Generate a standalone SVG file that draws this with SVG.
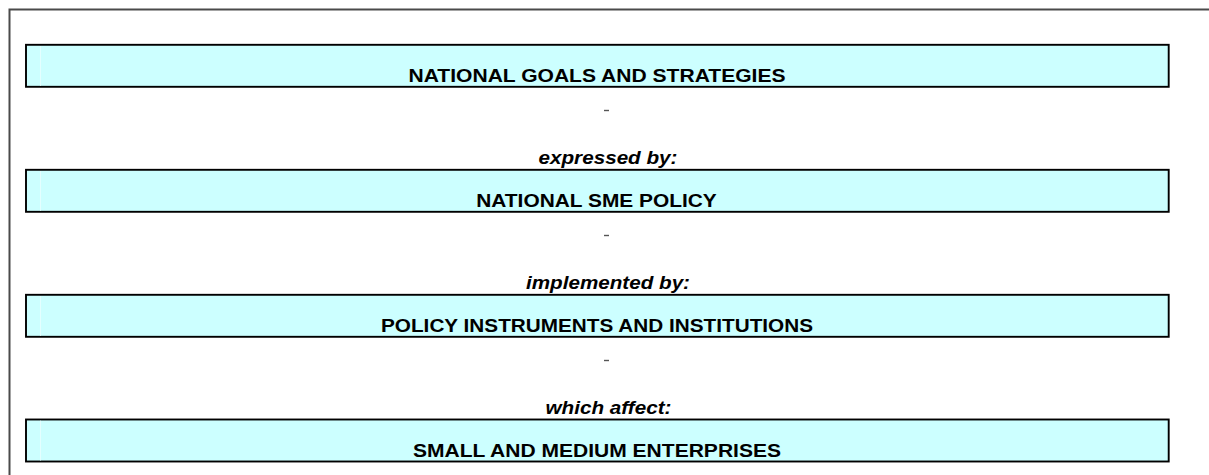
<svg xmlns="http://www.w3.org/2000/svg" width="1209" height="475" viewBox="0 0 1209 475">
  <style>
    .frame { fill: none; stroke: #4a4a4a; stroke-width: 2; }
    .box { fill: #ccffff; stroke: #000; stroke-width: 1.9; }
    .seam { stroke: #e4ffff; stroke-width: 1; }
    .title { font-family: "Liberation Sans", Arial, sans-serif; font-weight: bold; font-size: 19px; fill: #000; text-anchor: middle; }
    .rel { font-family: "Liberation Sans", Arial, sans-serif; font-weight: bold; font-style: italic; font-size: 19px; fill: #000; text-anchor: middle; }
    .tick { stroke: #555; stroke-width: 1.4; }
  </style>

  <!-- outer page frame, running past the right and bottom edges -->
  <rect class="frame" x="9.5" y="9.5" width="1300" height="600"/>

  <g id="node-goals">
    <rect class="box" x="26" y="44.8" width="1142.7" height="42"/>
    <line class="seam" x1="40.5" y1="46" x2="40.5" y2="85.8"/>
    <text class="title" x="597" y="81.5" textLength="377" lengthAdjust="spacingAndGlyphs">NATIONAL GOALS AND STRATEGIES</text>
  </g>

  <g id="node-policy">
    <rect class="box" x="26" y="169.8" width="1142.7" height="42"/>
    <line class="seam" x1="40.5" y1="171" x2="40.5" y2="210.8"/>
    <text class="title" x="596.5" y="206.5" textLength="240.5" lengthAdjust="spacingAndGlyphs">NATIONAL SME POLICY</text>
  </g>

  <g id="node-instruments">
    <rect class="box" x="26" y="294.8" width="1142.7" height="42"/>
    <line class="seam" x1="40.5" y1="296" x2="40.5" y2="335.8"/>
    <text class="title" x="597" y="331.5" textLength="432" lengthAdjust="spacingAndGlyphs">POLICY INSTRUMENTS AND INSTITUTIONS</text>
  </g>

  <g id="node-smes">
    <rect class="box" x="26" y="419.5" width="1142.7" height="42"/>
    <line class="seam" x1="40.5" y1="420.7" x2="40.5" y2="460.5"/>
    <text class="title" x="597" y="456.5" textLength="368" lengthAdjust="spacingAndGlyphs">SMALL AND MEDIUM ENTERPRISES</text>
  </g>

  <!-- links between the levels: a small mark and the relation label -->
  <g id="connectors">
    <line class="tick" x1="604" y1="110.5" x2="609" y2="110.5"/>
    <text class="rel" x="608" y="163.5" textLength="139" lengthAdjust="spacingAndGlyphs">expressed by:</text>

    <line class="tick" x1="604" y1="235.5" x2="609" y2="235.5"/>
    <text class="rel" x="608" y="288.5" textLength="164" lengthAdjust="spacingAndGlyphs">implemented by:</text>

    <line class="tick" x1="604" y1="360.5" x2="609" y2="360.5"/>
    <text class="rel" x="608.5" y="413.5" textLength="126" lengthAdjust="spacingAndGlyphs">which affect:</text>
  </g>
</svg>
